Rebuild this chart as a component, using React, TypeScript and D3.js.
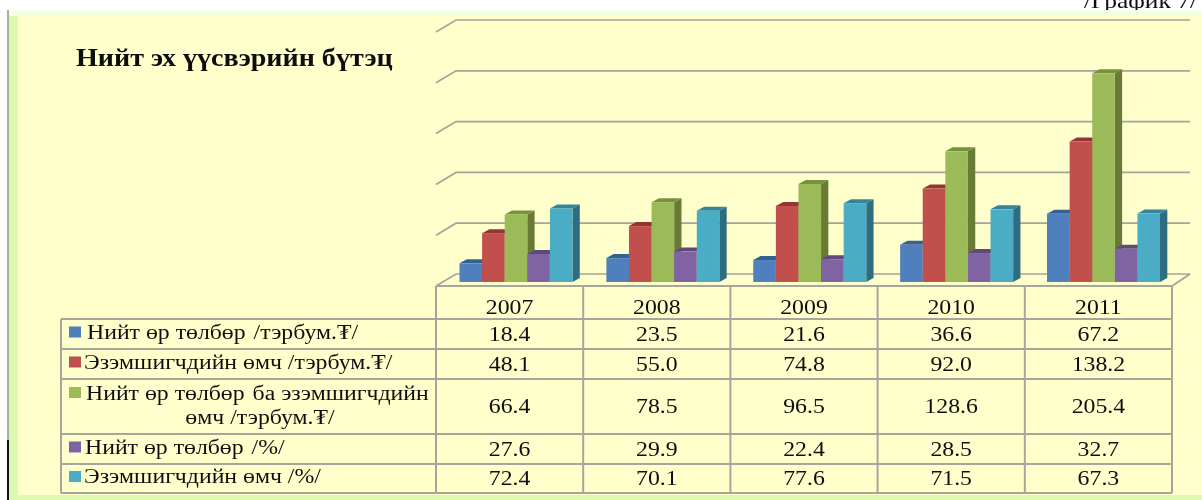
import * as d3 from 'd3'
import { useEffect, useRef } from 'react'

const years = ['2007', '2008', '2009', '2010', '2011']
const totalPayment = [18.4, 23.5, 21.6, 36.6, 67.2]
const ownersEquity = [48.1, 55.0, 74.8, 92.0, 138.2]
const paymentAndEquity = [66.4, 78.5, 96.5, 128.6, 205.4]
const paymentPct = [27.6, 29.9, 22.4, 28.5, 32.7]
const equityPct = [72.4, 70.1, 77.6, 71.5, 67.3]
const gridTicks = [0, 50, 100, 150, 200, 250]

const series = [
    { key: 'payment', values: totalPayment, fill: '#4f7fbc', side: '#385d8a', top: '#366092', label: ['Нийт өр төлбөр \u200a/тэрбум.₮/'], labelX: 87 },
    { key: 'equity', values: ownersEquity, fill: '#c0504d', side: '#8c3836', top: '#943634', label: ['Эзэмшигчдийн өмч /тэрбум.₮/'], labelX: 84 },
    { key: 'sum', values: paymentAndEquity, fill: '#9bbb59', side: '#677a35', top: '#76923c', label: ['Нийт өр төлбөр \u200aба эзэмшигчдийн', 'өмч /тэрбум.₮/'], labelX: 86 },
    { key: 'paymentPct', values: paymentPct, fill: '#8064a2', side: '#5c4776', top: '#5f497a', label: ['Нийт өр төлбөр \u200a/%/'], labelX: 85 },
    { key: 'equityPct', values: equityPct, fill: '#4bacc6', side: '#2f6c80', top: '#31859c', label: ['Эзэмшигчдийн өмч /%/'], labelX: 84 },
]

const FONT = '"Liberation Serif", "DejaVu Serif", serif'
const GRID = '#a4a49a'
const BORDER = '#a4a69a'
const STRETCH = 1.16 // the source picture is wider than it is tall

const drawChart = (node: SVGSVGElement) => {
    const svg = d3.select(node)
    svg.selectAll('*').remove()

    const defs = svg.append('defs')
    defs.append('filter').attr('id', 'soft')
        .attr('x', '-5%').attr('y', '-5%').attr('width', '110%').attr('height', '110%')
        .append('feGaussianBlur').attr('stdDeviation', 0.45)

    // Page background and slide frame
    svg.append('rect').attr('width', 1202).attr('height', 500).attr('fill', '#fff')
    svg.append('rect').attr('x', 9).attr('y', 10).attr('width', 1193).attr('height', 490).attr('fill', '#ddf9b0')
    svg.append('rect').attr('x', 9).attr('y', 10).attr('width', 1193).attr('height', 6).attr('fill', '#f5ffe4')
    svg.append('rect').attr('x', 7).attr('y', 10).attr('width', 2).attr('height', 430).attr('fill', '#a9ad9e')
    svg.append('rect').attr('x', 7).attr('y', 440).attr('width', 2).attr('height', 60).attr('fill', '#111')
    svg.append('rect').attr('x', 18).attr('y', 16).attr('width', 1184).attr('height', 479).attr('fill', '#ffffcc')

    const root = svg.append('g').attr('filter', 'url(#soft)')

    const text = (tx: number, ty: number, str: string, size: number, anchor = 'start') => root.append('text')
        .attr('transform', `translate(${tx},${ty}) scale(${STRETCH},1)`)
        .attr('text-anchor', anchor)
        .attr('font-family', FONT).attr('font-size', size).attr('fill', '#111')
        .style('white-space', 'pre')
        .text(str)

    text(1084, 8, '/График 7/', 22)
    root.append('rect').attr('x', 1060).attr('y', 10).attr('width', 142).attr('height', 6).attr('fill', '#f5ffe4')

    text(76, 66, 'Нийт эх үүсвэрийн бүтэц', 24.2).attr('font-weight', 'bold')

    // Scales: the back wall sits up and to the right of the floor's front edge
    const x = d3.scaleBand().domain(years).range([436, 1172])
    const xBars = d3.scaleBand().domain(years).range([436, 1170.4])
    const yBack = d3.scaleLinear().domain([0, 250]).range([274, 20])
    const yBar = d3.scaleLinear().domain([0, 250]).range([282, 28])
    const depthX = 7.3
    const depthY = 4

    gridTicks.forEach(t => {
        const y = yBack(t)
        root.append('path')
            .attr('d', `M436,${y + 12}L456,${y}H1190`)
            .attr('fill', 'none').attr('stroke', GRID).attr('stroke-width', 1.7)
    })
    root.append('path')
        .attr('d', `M1172,286L1190,${yBack(0)}`)
        .attr('fill', 'none').attr('stroke', GRID).attr('stroke-width', 1.7)

    // Bars
    years.forEach((year, i) => {
        const x0 = xBars(year)!
        const inner = d3.scaleBand().domain(series.map(s => s.key)).range([x0 + 23.5, x0 + 136.5])
        series.forEach(s => {
            const left = inner(s.key)!
            const w = inner.bandwidth()
            const top = yBar(s.values[i])
            const base = yBar(0)
            const g = root.append('g')
            g.append('path')
                .attr('d', `M${left + w},${top}l${depthX},${-depthY}V${base - depthY}l${-depthX},${depthY}Z`)
                .attr('fill', s.side)
            g.append('path')
                .attr('d', `M${left},${top}l${depthX},${-depthY}h${w}l${-depthX},${depthY}Z`)
                .attr('fill', s.top)
            g.append('rect')
                .attr('x', left).attr('y', top).attr('width', w).attr('height', base - top)
                .attr('fill', s.fill)
        })
    })

    // Data table
    const rowEdges = [319, 349, 379, 434, 464, 493]
    const colEdges = [436, ...years.map(y => x(y)! + x.bandwidth())]
    const tableLeft = 61

    const line = (d: string) => root.append('path')
        .attr('d', d).attr('fill', 'none').attr('stroke', BORDER).attr('stroke-width', 2)

    line(`M436,286H1172`)
    colEdges.forEach(c => line(`M${c},286V493`))
    rowEdges.forEach(r => line(`M${tableLeft},${r}H1172`))
    line(`M${tableLeft},319V493`)

    years.forEach(year => text(x(year)! + x.bandwidth() / 2, 314, year, 20.5, 'middle'))

    series.forEach((s, r) => {
        const y0 = rowEdges[r]
        const y1 = rowEdges[r + 1]
        const mid = (y0 + y1) / 2
        years.forEach((year, i) => {
            text(x(year)! + x.bandwidth() / 2, mid + 6.5, s.values[i].toFixed(1), 20.5, 'middle')
        })
        root.append('rect')
            .attr('x', 69).attr('width', 12).attr('height', 11)
            .attr('y', s.label.length > 1 ? y0 + 8 : mid - 7.5)
            .attr('fill', s.fill)
        if (s.label.length > 1) {
            text(s.labelX, y0 + 21, s.label[0], 20.5)
            text(260, y0 + 45, s.label[1], 20.5, 'middle')
        } else {
            text(s.labelX, mid + 4.5, s.label[0], 20.5)
        }
    })
}

const App = () => {
    const ref = useRef<SVGSVGElement>(null)

    useEffect(() => {
        if (ref.current) drawChart(ref.current)
    }, [])

    return (
        <svg
            ref={ref}
            width={1202}
            height={500}
            style={{ position: 'absolute', left: 0, top: 0, display: 'block' }}
        />
    )
}

export default App
